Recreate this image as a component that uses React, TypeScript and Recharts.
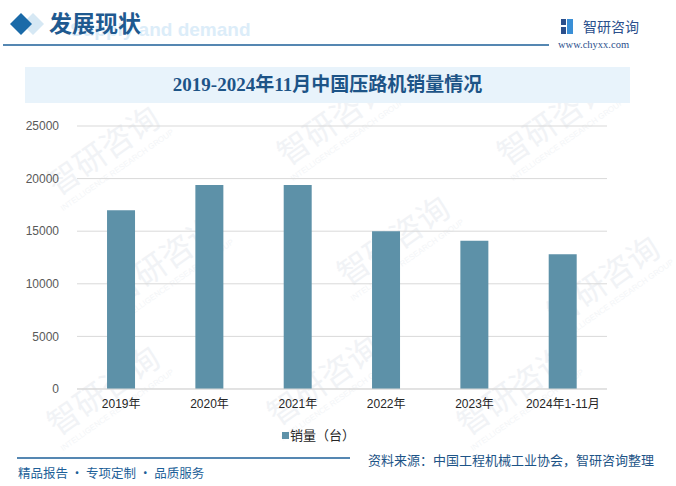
import React from 'react';
import { BarChart, Bar, XAxis, YAxis, CartesianGrid, Legend } from 'recharts';

const categories = ['2019年', '2020年', '2021年', '2022年', '2023年', '2024年1-11月'];
const sales = [17000, 19400, 19400, 15000, 14100, 12800];
const yTicks = [0, 5000, 10000, 15000, 20000, 25000];
const seriesName = '销量（台）';
const title = '2019-2024年11月中国压路机销量情况';
const source = '资料来源：中国工程机械工业协会，智研咨询整理';
const slogan = '精品报告 · 专项定制 · 品质服务';

const data = categories.map((c, i) => ({ name: c, value: sales[i] }));

const BAR = '#5d91a8';
const NAVY = '#1d5487';

const watermarks = [
  [110, 160], [340, 130], [560, 130], [170, 270], [400, 250], [610, 290],
  [110, 400], [330, 390], [520, 400],
];

const Watermarks = () => (
  <svg width={676} height={486} style={{ position: 'absolute', left: 0, top: 0 }}>
    {watermarks.map(([x, y], i) => (
      <g key={i} transform={`translate(${x},${y}) rotate(-35)`}>
        <text x={0} y={0} fontSize={32} fill="#f1f3f6" fontFamily="Noto Sans CJK SC" textAnchor="middle">智研咨询</text>
        <text x={0} y={15} fontSize={8} fill="#f3f5f7" fontFamily="Liberation Sans" textAnchor="middle">INTELLIGENCE RESEARCH GROUP</text>
      </g>
    ))}
  </svg>
);

export default function App() {
  return (
    <div style={{ position: 'absolute', left: 0, top: 0, width: 676, height: 486, background: '#fff', overflow: 'hidden', fontFamily: '"Noto Sans CJK SC", sans-serif' }}>
      <Watermarks />
      {/* header */}
      <svg width={676} height={60} style={{ position: 'absolute', left: 0, top: 0 }}>
        <polygon points="33,13 44,24 33,35 22,24" fill="#d6e8f4" />
        <polygon points="21,13 32,24 21,35 10,24" fill="#1a6aa8" />
        <text x={70} y={36} fontSize={19} fontWeight="bold" fill="#dcedf9" fontFamily="Liberation Sans">Supply and demand</text>
        <text x={49} y={32} fontSize={23} fill="#1f5a90" fontFamily="Noto Sans CJK SC" fontWeight="bold">发展现状</text>
        <line x1={3} y1={45} x2={549} y2={45} stroke="#1d5f98" strokeWidth={1.5} />
        <rect x={561} y={19} width={5} height={6} fill="#2b4f8c" />
        <rect x={561} y={27} width={5} height={7} fill="#2b4f8c" />
        <rect x={567} y={19} width={6} height={15} fill="#3a8fd6" />
        <text x={583} y={32} fontSize={14} fill="#2b4f8c" fontFamily="Noto Sans CJK SC">智研咨询</text>
        <text x={558} y={48} fontSize={10.5} fill="#2b4f8c" fontFamily="Liberation Serif">www.chyxx.com</text>
      </svg>
      {/* title box */}
      <div style={{ position: 'absolute', left: 25, top: 67, width: 605, height: 36, background: '#e8f3fb' }} />
      <div style={{ position: 'absolute', left: 25, top: 67, width: 605, height: 36, lineHeight: '36px', textAlign: 'center', fontSize: 19, fontWeight: 'bold', color: NAVY, fontFamily: '"Liberation Serif", "Noto Sans CJK SC", serif' }}>{title}</div>
      <div style={{ position: 'absolute', left: 0, top: 0 }}>
        <BarChart width={676} height={486} data={data} margin={{ top: 126, right: 69, left: 0, bottom: 0 }} barCategoryGap="34%">
          <CartesianGrid vertical={false} stroke="#d9d9d9" />
          <XAxis dataKey="name" axisLine={{ stroke: '#d9d9d9' }} tickLine={false} tickSize={6} tickMargin={4} height={73}
            tick={{ fontSize: 12, fill: '#262626', fontFamily: 'Liberation Sans, Noto Sans CJK SC' }} interval={0} />
          <YAxis width={77} domain={[0, 25000]} ticks={yTicks} axisLine={false} tickLine={false} tickSize={6} tickMargin={12}
            tick={{ fontSize: 12, fill: '#595959', fontFamily: 'Liberation Sans' }} />
          <Legend verticalAlign="bottom" iconType="square" iconSize={7}
            wrapperStyle={{ position: 'absolute', top: 421, left: 282, width: 80, bottom: 'auto' }}
            formatter={(v) => <span style={{ color: '#262626', fontSize: 13, marginLeft: -3 }}>{v}</span>} />
          <Bar dataKey="value" name={seriesName} fill={BAR} isAnimationActive={false} />
        </BarChart>
      </div>
      {/* footer */}
      <svg width={676} height={40} style={{ position: 'absolute', left: 0, top: 446 }}>
        <line x1={17} y1={12} x2={350} y2={12} stroke="#1d5f98" strokeWidth={1.5} />
        <text x={18} y={32} fontSize={12.5} fill="#1d5f98" fontFamily="Noto Sans CJK SC">{slogan}</text>
        <text x={368} y={19} fontSize={13} fill={NAVY} fontFamily="Noto Sans CJK SC">{source}</text>
      </svg>
    </div>
  );
}
